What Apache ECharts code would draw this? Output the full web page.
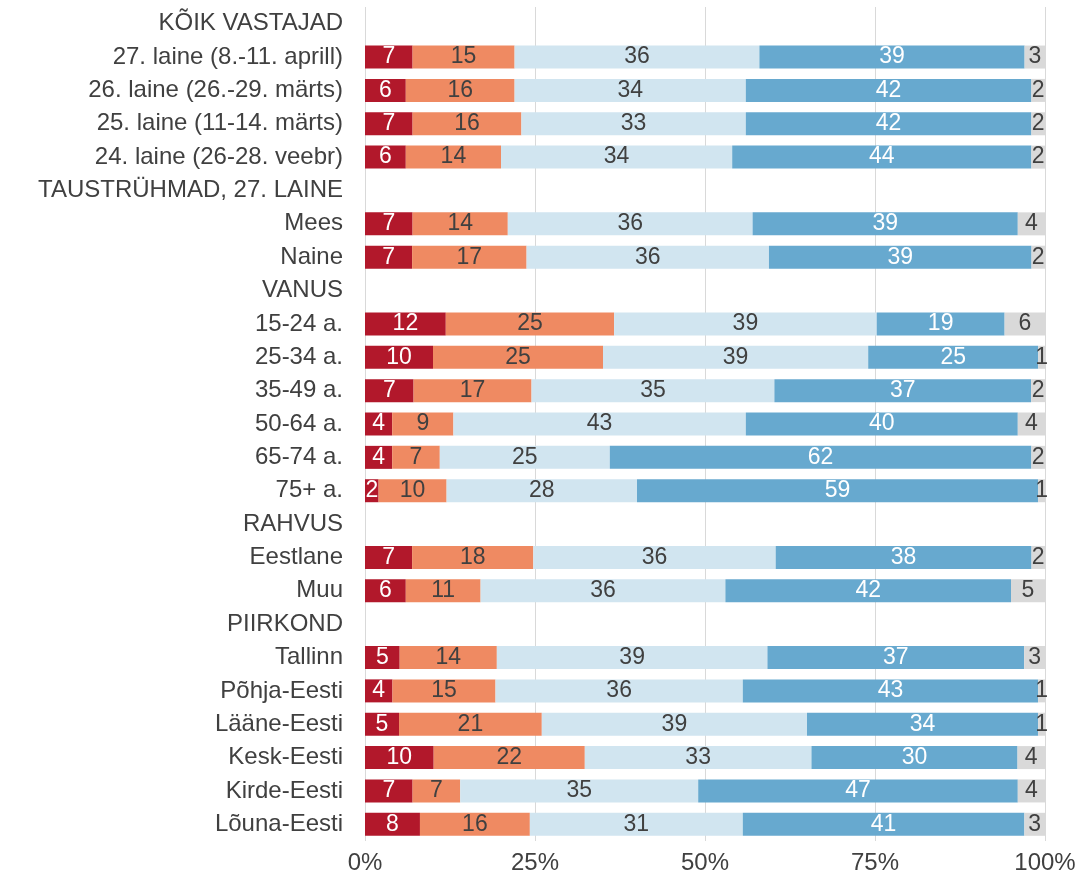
<!DOCTYPE html>
<html>
<head>
<meta charset="utf-8">
<script src="https://cdn.jsdelivr.net/npm/echarts@6/dist/echarts.min.js"></script>
<style>
  html, body { margin: 0; padding: 0; background: #fff; }
  #chart { width: 1080px; height: 881px; }
</style>
</head>
<body>
<div id="chart"></div>
<script>
// rows top to bottom; group headers carry no values (null)
var categories = [
  'KÕIK VASTAJAD',
  '27. laine (8.-11. aprill)',
  '26. laine (26.-29. märts)',
  '25. laine (11-14. märts)',
  '24. laine (26-28. veebr)',
  'TAUSTRÜHMAD, 27. LAINE',
  'Mees',
  'Naine',
  'VANUS',
  '15-24 a.',
  '25-34 a.',
  '35-49 a.',
  '50-64 a.',
  '65-74 a.',
  '75+ a.',
  'RAHVUS',
  'Eestlane',
  'Muu',
  'PIIRKOND',
  'Tallinn',
  'Põhja-Eesti',
  'Lääne-Eesti',
  'Kesk-Eesti',
  'Kirde-Eesti',
  'Lõuna-Eesti'
];

var s1 = [null, 7, 6, 7, 6, null, 7, 7, null, 12, 10, 7, 4, 4, 2, null, 7, 6, null, 5, 4, 5, 10, 7, 8];
var s2 = [null, 15, 16, 16, 14, null, 14, 17, null, 25, 25, 17, 9, 7, 10, null, 18, 11, null, 14, 15, 21, 22, 7, 16];
var s3 = [null, 36, 34, 33, 34, null, 36, 36, null, 39, 39, 35, 43, 25, 28, null, 36, 36, null, 39, 36, 39, 33, 35, 31];
var s4 = [null, 39, 42, 42, 44, null, 39, 39, null, 19, 25, 37, 40, 62, 59, null, 38, 42, null, 37, 43, 34, 30, 47, 41];
var s5 = [null, 3, 2, 2, 2, null, 4, 2, null, 6, 1, 2, 4, 2, 1, null, 2, 5, null, 3, 1, 1, 4, 4, 3];

var xTicks = [0, 25, 50, 75, 100];

var all = [s1, s2, s3, s4, s5];
var colors = ['#b2182b', '#ef8a62', '#d1e5f0', '#67a9cf', '#d9d9d9'];
var labelColors = ['#ffffff', '#404040', '#404040', '#ffffff', '#404040'];
var font = '"Liberation Sans", Arial, sans-serif';

// 100% stacked: each row normalised to its own total
var totals = categories.map(function (c, i) {
  var t = 0;
  all.forEach(function (s) { if (s[i] != null) t += s[i]; });
  return t;
});

var series = all.map(function (s, k) {
  return {
    type: 'bar',
    stack: 'all',
    barWidth: 23,
    itemStyle: { color: colors[k] },
    label: {
      show: true,
      position: 'inside',
      color: labelColors[k],
      fontSize: 23,
      fontFamily: font,
      formatter: function (p) { return p.data.raw; }
    },
    data: s.map(function (v, i) {
      if (v == null) return { value: '-', raw: '' };
      return { value: v / totals[i] * 100, raw: v };
    })
  };
});

var myChart = echarts.init(document.getElementById('chart'));
myChart.setOption({
  animation: false,
  grid: { left: 365, right: 35, top: 7, bottom: 40, containLabel: false },
  xAxis: {
    type: 'value',
    min: xTicks[0],
    max: xTicks[xTicks.length - 1],
    interval: 25,
    axisLine: { show: false },
    axisTick: { show: false },
    axisLabel: {
      margin: 10,
      color: '#404040',
      fontSize: 24,
      fontFamily: font,
      formatter: '{value}%'
    },
    splitLine: { show: true, lineStyle: { color: '#d9d9d9', width: 1 } }
  },
  yAxis: {
    type: 'category',
    inverse: true,
    data: categories,
    axisLine: { show: false },
    axisTick: { show: false },
    axisLabel: {
      margin: 22,
      color: '#404040',
      fontSize: 24,
      fontFamily: font
    }
  },
  series: series
});
</script>
</body>
</html>
